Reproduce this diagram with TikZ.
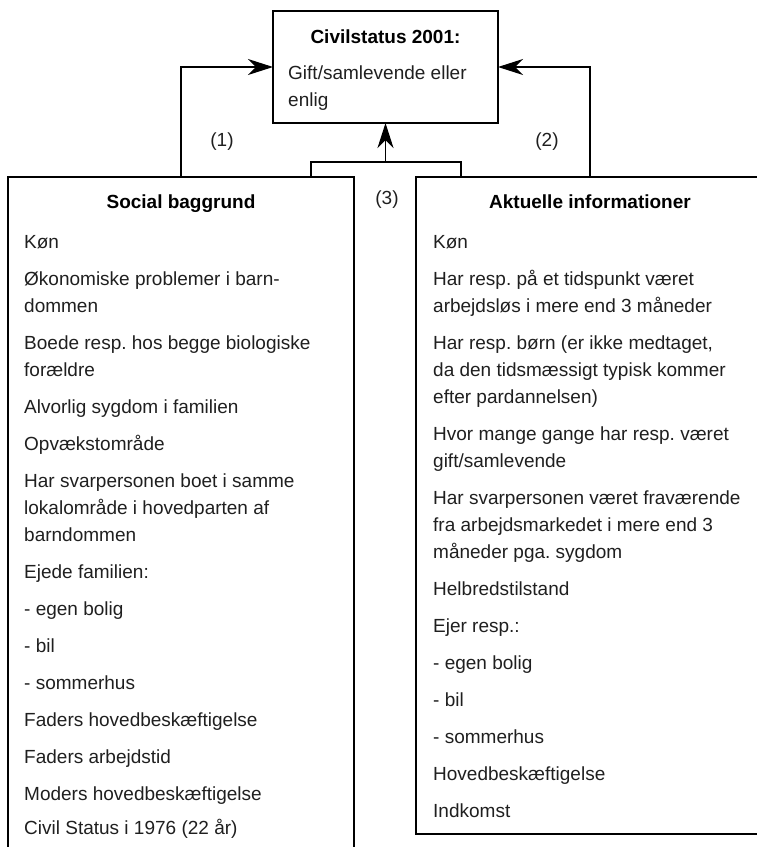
\documentclass[tikz,border=0pt]{standalone}
\usepackage{fontspec}
\setmainfont{Liberation Sans}
\usetikzlibrary{arrows.meta}
\frenchspacing
\begin{document}
\frenchspacing
\begin{tikzpicture}[x=1pt,y=-1pt,
  box/.style={draw=black, line width=1.2pt, inner sep=0pt, outer sep=0pt, anchor=north west},
  txt/.style={anchor=base west, inner sep=0pt, text=black!88, font=\fontsize{19}{27}\selectfont\frenchspacing},
  ttl/.style={anchor=base, inner sep=0pt, font=\fontsize{19}{27}\selectfont\bfseries},
  con/.style={draw=black, line width=1.2pt},
  arr/.style={con, -{Stealth[length=25pt,width=16pt,inset=8pt]}},
  lbl/.style={inner sep=0pt, text=black!88, font=\fontsize{19}{27}\selectfont}]
\useasboundingbox (0,0) rectangle (757,847);
\clip (0,0) rectangle (757,847);
% boxes
\node[box, minimum width=225pt, minimum height=112pt] (top) at (273,11) {};
\node[box, minimum width=346pt, minimum height=700pt] (lb) at (8,177) {};
\node[box, minimum width=348pt, minimum height=657pt] (rb) at (416,177) {};
% top box text
\node[ttl] (ttop) at (385.5,43) {Civilstatus 2001:};
\node[txt] (t1) at (288,79) {Gift/samlevende eller};
\node[txt] (t2) at (288,106) {enlig};
% left box text
\node[ttl] (tl) at (181,208) {Social baggrund};
\node[txt] (l1) at (24,248) {Køn};
\node[txt] (l2) at (24,285) {Økonomiske problemer i barn-};
\node[txt] (l3) at (24,312) {dommen};
\node[txt] (l4) at (24,349) {Boede resp. hos begge biologiske};
\node[txt] (l5) at (24,376) {forældre};
\node[txt] (l6) at (24,413) {Alvorlig sygdom i familien};
\node[txt] (l7) at (24,450) {Opvækstområde};
\node[txt] (l8) at (24,487) {Har svarpersonen boet i samme};
\node[txt] (l9) at (24,514) {lokalområde i hovedparten af};
\node[txt] (l10) at (24,541) {barndommen};
\node[txt] (l11) at (24,578) {Ejede familien:};
\node[txt] (l12) at (24,615) {- egen bolig};
\node[txt] (l13) at (24,652) {- bil};
\node[txt] (l14) at (24,689) {- sommerhus};
\node[txt] (l15) at (24,726) {Faders hovedbeskæftigelse};
\node[txt] (l16) at (24,763) {Faders arbejdstid};
\node[txt] (l17) at (24,800) {Moders hovedbeskæftigelse};
\node[txt] (l18) at (24,834) {Civil Status i 1976 (22 år)};
% right box text
\node[ttl] (tr) at (590,208) {Aktuelle informationer};
\node[txt] (r1) at (433,248) {Køn};
\node[txt] (r2) at (433,285) {Har resp. på et tidspunkt været};
\node[txt] (r3) at (433,312) {arbejdsløs i mere end 3 måneder};
\node[txt] (r4) at (433,349) {Har resp. børn (er ikke medtaget,};
\node[txt] (r5) at (433,376) {da den tidsmæssigt typisk kommer};
\node[txt] (r6) at (433,403) {efter pardannelsen)};
\node[txt] (r7) at (433,440) {Hvor mange gange har resp. været};
\node[txt] (r8) at (433,467) {gift/samlevende};
\node[txt] (r9) at (433,504) {Har svarpersonen været fraværende};
\node[txt] (r10) at (433,531) {fra arbejdsmarkedet i mere end 3};
\node[txt] (r11) at (433,558) {måneder pga. sygdom};
\node[txt] (r12) at (433,595) {Helbredstilstand};
\node[txt] (r13) at (433,632) {Ejer resp.:};
\node[txt] (r14) at (433,669) {- egen bolig};
\node[txt] (r15) at (433,706) {- bil};
\node[txt] (r16) at (433,743) {- sommerhus};
\node[txt] (r17) at (433,780) {Hovedbeskæftigelse};
\node[txt] (r18) at (433,817) {Indkomst};
% labels
\node[lbl] (n1) at (222,142) {(1)};
\node[lbl] (n2) at (547,142) {(2)};
\node[lbl] (n3) at (387,200) {(3)};
% connectors
\draw[arr] (lb.north) |- (top.west);
\draw[arr] (rb.north) |- (top.east);
\coordinate (ml) at (311,177);
\coordinate (mr) at (461,177);
\coordinate (mj) at (top.south |- 0,162);
\draw[con] (ml) |- (mj) -| (mr);
\draw[arr] (mj) -- (top.south);
\end{tikzpicture}
\end{document}
